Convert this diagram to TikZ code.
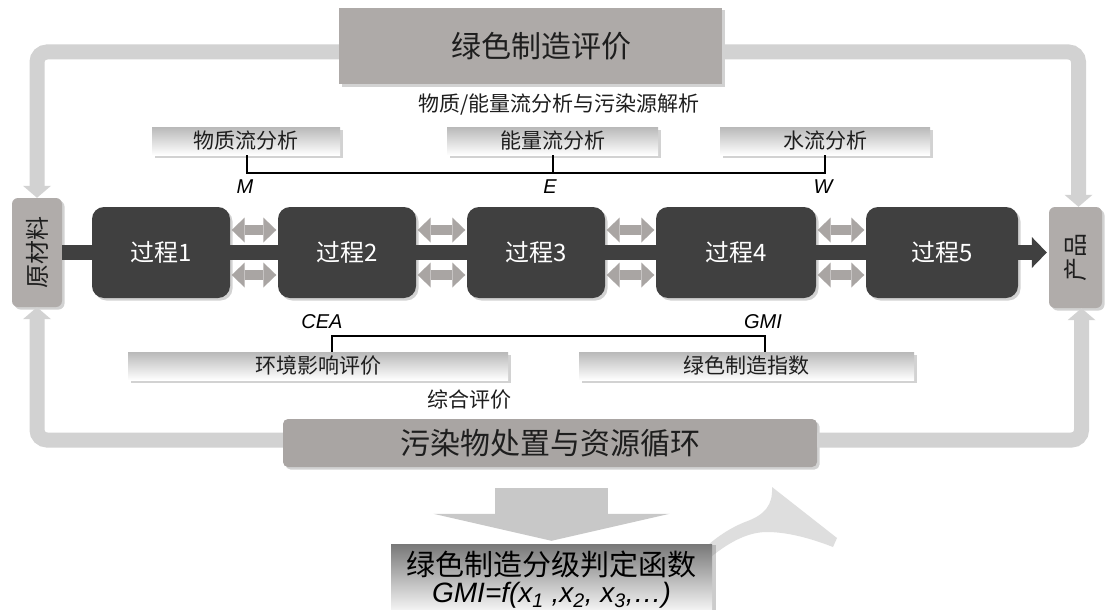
\documentclass[tikz,border=0pt]{standalone}
\usepackage{fontspec}
\usepackage{graphicx}
\setmainfont{Liberation Sans}
\newfontfamily\cjk{Noto Sans CJK SC}
\usetikzlibrary{arrows.meta,shadows,calc}
\definecolor{darkbox}{RGB}{64,64,64}
\definecolor{topfill}{RGB}{174,170,168}
\definecolor{endfill}{RGB}{176,172,170}
\definecolor{botfill}{RGB}{169,165,163}
\definecolor{loopgray}{RGB}{210,210,210}
\definecolor{dblgray}{RGB}{169,165,163}
\definecolor{biggray}{RGB}{200,200,200}
\definecolor{curvegray}{RGB}{222,222,222}
\definecolor{funtop}{RGB}{120,120,120}
\definecolor{txt}{RGB}{30,30,30}
\newcommand\fsz[1]{\fontsize{#1}{#1}\selectfont}
\begin{document}
\begin{tikzpicture}[x=1pt,y=-1pt,
  shad/.style={drop shadow={shadow xshift=2.5pt,shadow yshift=-2.5pt,opacity=0.35}},
  procbox/.style={fill=darkbox, rounded corners=12pt, minimum height=91pt, inner sep=0pt, text=white, font=\cjk\fsz{24}, shad},
  endbox/.style={fill=endfill, rounded corners=6pt, inner sep=0pt, text=txt, font=\cjk\fsz{24}, shad},
  bigbox/.style={inner sep=0pt, text=txt, font=\cjk\fsz{30}, shad},
  smallbox/.style={top color=gray!55, bottom color=white, minimum height=28pt, inner sep=0pt, text=txt, font=\cjk\fsz{21}, shad},
  plain/.style={inner sep=0pt, text=txt, font=\cjk\fsz{21}},
  ital/.style={inner sep=0pt, text=black, font=\itshape\fsz{20}},
  bracket/.style={draw=black, line width=2.2pt},
  darkbar/.style={draw=darkbox, line width=15pt},
  dblarrow/.style={draw=dblgray, line width=10pt, shorten <=1.5pt, shorten >=1.5pt,
     {Triangle[width=25pt,length=13pt,line width=0pt]}-{Triangle[width=25pt,length=13pt,line width=0pt]}},
  looparrow/.style={draw=loopgray, line width=15pt, rounded corners=10pt,
     -{Triangle[width=28pt,length=12pt,line width=0pt]}},
  bigarrow/.style={draw=biggray, line width=113pt, -{Triangle[width=236pt,length=27pt,line width=0pt]}}
]
\clip (0,0) rectangle (1105,610);
\fill[white] (0,0) rectangle (1105,610);

% level coordinates
\coordinate (topy) at (0,52);
\coordinate (boty) at (0,440);
\coordinate (upy) at (0,230);
\coordinate (lowy) at (0,275);

% big boxes
\node[bigbox, fill=topfill, minimum width=383pt, minimum height=76pt] (topbox) at (530.5,46) {\hspace*{22pt}绿色制造评价};
\node[bigbox, fill=botfill, rounded corners=5pt, minimum width=534pt, minimum height=48pt] (botbox) at (550,443) {污染物处置与资源循环};

% end boxes
\node[endbox, minimum width=50pt, minimum height=109pt] (raw) at (37,252.5) {\rotatebox{90}{原材料}};
\node[endbox, minimum width=53pt, minimum height=101pt] (prod) at (1075.5,257.5) {\rotatebox{90}{产品}};

% process boxes
\node[procbox, minimum width=138pt] (p1) at (161,252.5) {过程1};
\node[procbox, minimum width=138pt] (p2) at (347,252.5) {过程2};
\node[procbox, minimum width=138pt] (p3) at (536,252.5) {过程3};
\node[procbox, minimum width=160pt] (p4) at (736,252.5) {过程4};
\node[procbox, minimum width=152pt] (p5) at (942,252.5) {过程5};

% main dark flow
\draw[darkbar] (raw.east) -- (p1.west);
\draw[darkbar] (p1.east) -- (p2.west);
\draw[darkbar] (p2.east) -- (p3.west);
\draw[darkbar] (p3.east) -- (p4.west);
\draw[darkbar] (p4.east) -- (p5.west);
\draw[darkbar, shorten >=2pt, -{Triangle[width=31pt,length=15pt,line width=0pt]}] (p5.east) -- (p5.east -| prod.west);

% exchange arrows
\foreach \a/\b in {p1/p2,p2/p3,p3/p4,p4/p5}{
  \draw[dblarrow] (\a.east |- upy) -- (\b.west |- upy);
  \draw[dblarrow] (\a.east |- lowy) -- (\b.west |- lowy);
}

% loop arrows
\draw[looparrow] (topbox.west |- topy) -| (raw.north);
\draw[looparrow] (topbox.east |- topy) -| ([xshift=3pt]prod.north);
\draw[looparrow] (botbox.west |- boty) -| (raw.south);
\draw[looparrow] (botbox.east |- boty) -| ([xshift=6pt]prod.south);

% analysis labels
\node[plain] (head) at (559,105) {物质/能量流分析与污染源解析};
\node[smallbox, minimum width=188pt] (mbox) at (246,141) {物质流分析};
\node[smallbox, minimum width=211pt] (ebox) at (552.5,141) {能量流分析};
\node[smallbox, minimum width=210pt] (wbox) at (825,141) {水流分析};
\coordinate (mt) at (247,173);
\coordinate (et) at (553,173);
\coordinate (wt) at (825,173);
\draw[bracket] (mbox.south -| mt) -- (mt) -- (wt) -- (wbox.south -| wt);
\draw[bracket] (ebox.south -| et) -- (et);
\node[ital] (mlab) at (245,187) {M};
\node[ital] (elab) at (550,187) {E};
\node[ital] (wlab) at (823,187) {W};

% evaluation labels
\node[smallbox, minimum width=380pt] (envbox) at (318,366) {环境影响评价};
\node[smallbox, minimum width=335pt] (gmibox) at (746.5,366) {绿色制造指数};
\coordinate (ct) at (332,336);
\coordinate (gt) at (765,336);
\draw[bracket] (envbox.north -| ct) -- (ct) -- (gt) -- (gmibox.north -| gt);
\node[ital] (cealab) at (322,322) {CEA};
\node[ital] (gmilab) at (763,322) {GMI};
\node[plain] (zonghe) at (469,400) {综合评价};

% decorative curved arrow
\fill[curvegray] (705,562) .. controls (730,540) and (750,532) .. (767,532)
  .. controls (790,532) and (815,540) .. (833,547) -- (837,538) -- (772,487)
  .. controls (773,505) and (765,515) .. (745,522)
  .. controls (730,528) and (715,538) .. (705,548) -- cycle;

% function box
\node[inner sep=0pt, top color=funtop, bottom color=white, minimum width=321pt, minimum height=72pt,
  drop shadow={shadow xshift=4pt,shadow yshift=-1pt,opacity=0.4}, align=center, text=black]
  (funcbox) at (551.5,580) {{\cjk\fsz{29}绿色制造分级判定函数}\\[3pt]
  {\itshape\fsz{28}GMI=f(x\textsubscript{1} ,x\textsubscript{2}, x\textsubscript{3},\ldots)}};

% big down arrow
\coordinate (fa) at (funcbox.north |- botbox.south);
\draw[bigarrow] ([yshift=-21pt]fa) -- ([yshift=3pt]funcbox.north);
\end{tikzpicture}
\end{document}
